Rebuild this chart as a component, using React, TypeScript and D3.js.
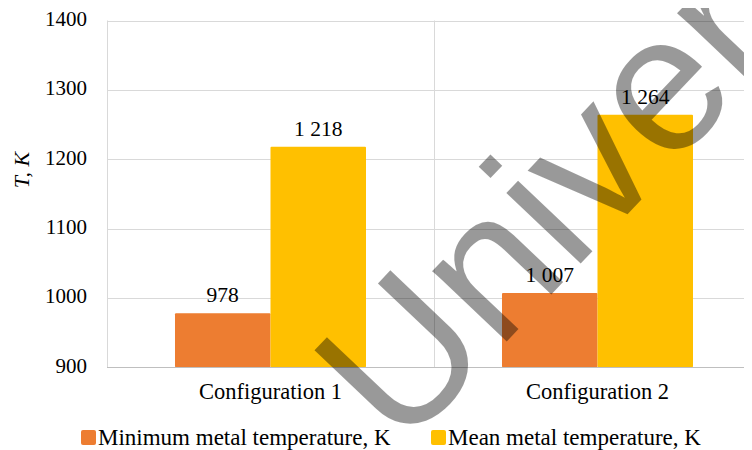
import React from 'react';
import * as d3 from 'd3';

// Chart data
const categories = ['Configuration 1', 'Configuration 2'];
const seriesNames = ['Minimum metal temperature, K', 'Mean metal temperature, K'];
const minimumTemp = [978, 1007];
const meanTemp = [1218, 1264];
const yTicks = [900, 1000, 1100, 1200, 1300, 1400];
const seriesColors = ['#ED7D31', '#FFC000'];
const yTitle = 'T, K';
const watermarkText = 'University';

const W = 752;
const H = 450;
const plot = { left: 107, right: 761, top: 20.5, bottom: 367.3 };

const locale = d3.formatLocale({ decimal: '.', thousands: ' ', grouping: [3], currency: ['', ''] });
const fmt = locale.format(',');

export default function App() {
  const x = d3.scaleBand<string>().domain(categories).range([plot.left, plot.right]).paddingInner(0).paddingOuter(0);
  const xs = d3.scaleBand<string>().domain(seriesNames).range([0, x.bandwidth()]).paddingInner(0).paddingOuter(0.712);
  const y = d3.scaleLinear().domain([900, 1400]).range([plot.bottom, plot.top]);

  const series = [minimumTemp, meanTemp];

  return (
    <svg width={W} height={H} fontFamily="Liberation Serif" style={{ display: 'block', margin: '-8px 0 0 -8px' }}>
      <style>{`.lbl { font-family: 'Liberation Serif'; } .wm { font-family: 'Liberation Sans'; }`}</style>
      <rect x={0} y={0} width={W} height={H} fill="#fff" />
      {/* horizontal gridlines */}
      {yTicks.filter((t) => t !== 900).map((t) => (
        <line key={t} x1={plot.left} x2={plot.right} y1={Math.round(y(t)) + 0.5} y2={Math.round(y(t)) + 0.5} stroke="#d9d9d9" strokeWidth={1} />
      ))}
      {/* vertical gridlines between categories */}
      {categories.map((c) => (
        <line key={c} x1={Math.round(x(c)!) + 0.5} x2={Math.round(x(c)!) + 0.5} y1={plot.top} y2={plot.bottom} stroke="#d9d9d9" strokeWidth={1} />
      ))}
      {/* bars */}
      {series.map((vals, si) =>
        vals.map((v, ci) => {
          const bx = x(categories[ci])! + xs(seriesNames[si])!;
          const by = y(v);
          return (
            <rect key={`${si}-${ci}`} x={bx} y={by} width={xs.bandwidth()} height={plot.bottom - by} fill={seriesColors[si]} rx={1} />
          );
        })
      )}
      {/* category axis line */}
      <line x1={plot.left} x2={plot.right} y1={Math.round(plot.bottom) + 0.5} y2={Math.round(plot.bottom) + 0.5} stroke="#bfbfbf" strokeWidth={1} />
      {/* data labels */}
      {series.map((vals, si) =>
        vals.map((v, ci) => (
          <text key={`l${si}-${ci}`} className="lbl" fontFamily="Liberation Serif" x={x(categories[ci])! + xs(seriesNames[si])! + xs.bandwidth() / 2} y={y(v) - 11} textAnchor="middle" fontSize={21.5} fill="#000">
            {fmt(v)}
          </text>
        ))
      )}
      {/* y tick labels */}
      {yTicks.map((t) => (
        <text key={t} className="lbl" fontFamily="Liberation Serif" x={87} y={y(t) + 5.5} textAnchor="end" fontSize={21} fill="#000">{t}</text>
      ))}
      {/* y axis title */}
      <text className="lbl" fontFamily="Liberation Serif" transform="translate(29,170) rotate(-90)" textAnchor="middle" fontSize={22} fontStyle="italic" fill="#000">{yTitle}</text>
      {/* category labels */}
      {categories.map((c) => (
        <text key={c} className="lbl" fontFamily="Liberation Serif" x={x(c)! + x.bandwidth() / 2} y={399} textAnchor="middle" fontSize={22.5} fill="#000">{c}</text>
      ))}
      {/* legend */}
      {seriesNames.map((s, i) => {
        const lx = [81, 431][i];
        return (
          <g key={s}>
            <rect x={lx} y={430} width={15} height={15} rx={2} fill={seriesColors[i]} />
            <text className="lbl" fontFamily="Liberation Serif" x={lx + 17} y={445} fontSize={23} fill="#000">{s}</text>
          </g>
        );
      })}
      {/* watermark */}
      <text className="wm" fontFamily="Liberation Sans" transform="translate(401,453) rotate(-46.5)" fontSize={194} fill="#000" fillOpacity={0.4}>
        {watermarkText}
      </text>
    </svg>
  );
}
